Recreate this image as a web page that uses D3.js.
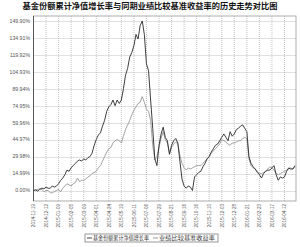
<!DOCTYPE html>
<html><head><meta charset="utf-8">
<script src="https://cdn.jsdelivr.net/npm/d3@7"></script>
<style>html,body{margin:0;padding:0;background:#fff;}svg{display:block;}</style>
</head><body>
<script>
const title = "基金份额累计净值增长率与同期业绩比较基准收益率的历史走势对比图";
const seriesNames = ["基金份额累计净值增长率", "业绩比较基准收益率"];
const xTickLabels = ["2014-11-19","2014-12-12","2015-01-09","2015-02-05","2015-03-09","2015-04-01","2015-04-24","2015-05-19","2015-06-11","2015-07-06","2015-07-29","2015-08-21","2015-09-16","2015-10-16","2015-11-10","2015-12-03","2015-12-28","2016-01-21","2016-02-23","2016-03-17","2016-04-12"];
const yTickValues = [0, 14.99, 29.98, 44.97, 59.96, 74.95, 89.94, 104.93, 119.92, 134.91, 149.90];
const fundValues = [0,0.5,-0.5,1,2,1.5,3,2,2,4,3,4,6,9,11,14,18,17,20,22,24,26,27,26,28,27,29,30,33,40,45,49,51,57,62,70,74,76,80,75,80,77,80,90,102,108,118,122,128,138,134,146,149.9,138,112,106,80,55,28,22,40,50,56,47,44,32,40,44,46,42,26,10,4,2,4,3,0,12,14,16,17,21,24,28,30,34,37,40,41,44,47,50,47,44,52,48,50,54,55,57,58,55,52,30,24,21,19,16,14,11,15,17,18,18,20,22,14,9,12,11,12,17,20,19,19,22];
const benchValues = [0,0.5,1,1.5,1,-1,0,0,-2,-2,-1,0,1,-1,2,4,6,5,4,6,7,11,8,9,9,10,12,13,15,16,17,20,22,26,30,34,37,38,42,44,45,44,42,48,54,58,62,67,71,74,77,78,83,78,72,70,62,40,27,30,38,46,52,45,42,33,38,41,43,41,31,24,20,18,20,19,20,21,22,22,22,24,26,28,30,33,35,37,39,41,45,44,43,41,40,42,42,43,44,44,46,47,46,28,22,20,19,17,15,15,16,17,19,21,20,18,15,14,15,16,17,18,19,20,19,21];
const pointsPerTick = 6;

const W = 300, H = 247;
const plot = {left: 33.5, right: 296, top: 16, bottom: 201};
const svg = d3.select("body").append("svg").attr("width", W).attr("height", H);

const n = fundValues.length;
const x = d3.scaleLinear().domain([0, n - 1]).range([plot.left, plot.left + (n - 1) * 12.55 / pointsPerTick]);
const y = d3.scaleLinear().domain([0, 149.90]).range([190.5, 21]);

// Title
svg.append("text").attr("x", 150).attr("y", 9).attr("text-anchor", "middle")
  .attr("font-family", "Noto Sans CJK SC").attr("font-weight", "bold").attr("font-size", 8)
  .attr("textLength", 255).attr("lengthAdjust", "spacingAndGlyphs")
  .attr("fill", "#111").text(title);

// grid
const g = svg.append("g");
g.selectAll("line.h").data(yTickValues).join("line")
  .attr("x1", plot.left).attr("x2", plot.right)
  .attr("y1", d => Math.round(y(d)) + 0.5).attr("y2", d => Math.round(y(d)) + 0.5)
  .attr("stroke", "#9a9a9a").attr("stroke-width", 0.6).attr("stroke-dasharray", "1,1");
const xTickIdx = xTickLabels.map((d, i) => i * pointsPerTick);
g.selectAll("line.v").data(xTickIdx).join("line")
  .attr("x1", d => x(d)).attr("x2", d => x(d))
  .attr("y1", plot.top).attr("y2", plot.bottom)
  .attr("stroke", "#9a9a9a").attr("stroke-width", 0.6).attr("stroke-dasharray", "1,1");

// frame
svg.append("rect").attr("x", plot.left).attr("y", plot.top)
  .attr("width", plot.right - plot.left).attr("height", plot.bottom - plot.top)
  .attr("fill", "none").attr("stroke", "#999").attr("stroke-width", 0.8);
svg.append("line").attr("x1", plot.left).attr("x2", plot.left).attr("y1", plot.top).attr("y2", plot.bottom)
  .attr("stroke", "#444").attr("stroke-width", 0.8);

// y labels
svg.selectAll("text.yl").data(yTickValues).join("text")
  .attr("x", 30).attr("y", d => y(d) + 1.8).attr("text-anchor", "end")
  .attr("font-family", "Liberation Sans, Arial").attr("font-size", 5.2).attr("fill", "#555")
  .text(d => d.toFixed(2) + "%");

// x labels
svg.selectAll("text.xl").data(xTickLabels).join("text")
  .attr("transform", (d, i) => `translate(${x(i * pointsPerTick) + 1.8},204) rotate(-90)`)
  .attr("text-anchor", "end")
  .attr("font-family", "Liberation Sans, Arial").attr("font-size", 4.6).attr("fill", "#555")
  .text(d => d);

// lines
const line = d3.line().x((d, i) => x(i)).y(d => y(d));
svg.append("path").datum(benchValues).attr("d", line)
  .attr("fill", "none").attr("stroke", "#8c8c8c").attr("stroke-width", 0.8);
svg.append("path").datum(fundValues).attr("d", line)
  .attr("fill", "none").attr("stroke", "#2a2a2a").attr("stroke-width", 0.9);

// legend
const lg = svg.append("g");
lg.append("rect").attr("x", 85).attr("y", 234).attr("width", 133).attr("height", 8)
  .attr("fill", "#fff").attr("stroke", "#555").attr("stroke-width", 0.6);
const items = [{x: 87, color: "#2a2a2a", name: seriesNames[0], len: 56}, {x: 153, color: "#8c8c8c", name: seriesNames[1], len: 56}];
items.forEach(it => {
  lg.append("line").attr("x1", it.x).attr("x2", it.x + 5).attr("y1", 238).attr("y2", 238)
    .attr("stroke", it.color).attr("stroke-width", 0.9);
  lg.append("text").attr("x", it.x + 6).attr("y", 240).attr("font-family", "Noto Sans CJK SC")
    .attr("font-size", 5.2).attr("textLength", it.len).attr("lengthAdjust", "spacingAndGlyphs")
    .attr("fill", "#333").text(it.name);
});
</script>
</body></html>
